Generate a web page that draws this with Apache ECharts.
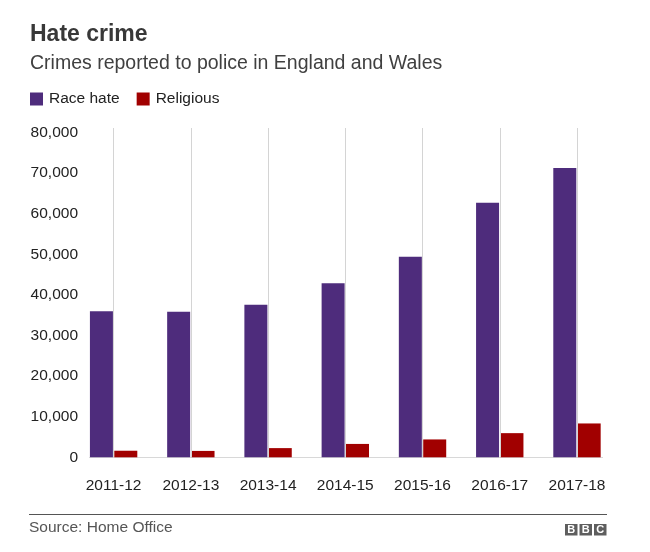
<!DOCTYPE html>
<html>
<head>
<meta charset="utf-8">
<script src="https://cdn.jsdelivr.net/npm/echarts@6/dist/echarts.min.js"></script>
<style>
html,body{margin:0;padding:0;background:#fff;}
#chart{width:650px;height:552px;}
</style>
</head>
<body>
<div id="chart"></div>
<script>
var categories = ['2011-12','2012-13','2013-14','2014-15','2015-16','2016-17','2017-18'];
var raceHate = [35944, 35845, 37575, 42862, 49419, 62685, 71251];
var religious = [1618, 1572, 2264, 3293, 4400, 5949, 8336];
var yTicks = [0, 10000, 20000, 30000, 40000, 50000, 60000, 70000, 80000];

var FONT = '"Liberation Sans", Arial, Helvetica, sans-serif';
var chart = echarts.init(document.getElementById('chart'), null, {renderer:'canvas'});

function fmt(v){ return String(v).replace(/\B(?=(\d{3})+(?!\d))/g, ','); }

var option = {
  backgroundColor: '#fff',
  animation: false,
  textStyle: { fontFamily: FONT },
  legend: {
    left: 30, top: 91, padding: 0,
    itemWidth: 13, itemHeight: 13, itemGap: 17,
    icon: 'rect',
    textStyle: { fontSize: 15.5, color: '#222', fontFamily: FONT, padding: [0,0,0,1] },
    data: ['Race hate', 'Religious']
  },
  grid: { left: 75, right: 34.4, top: 128, bottom: 94.7, containLabel: false },
  xAxis: {
    type: 'category',
    data: categories,
    axisLine: { show: false },
    axisTick: { show: false },
    splitLine: { show: false },
    axisLabel: { fontSize: 15.5, color: '#222', margin: 20, fontFamily: FONT }
  },
  yAxis: {
    type: 'value',
    min: yTicks[0], max: 81100, interval: 10000,
    axisLine: { show: false },
    axisTick: { show: false },
    splitLine: { show: false },
    axisLabel: { fontSize: 15.5, color: '#222', margin: -3, showMaxLabel: false, fontFamily: FONT,
      formatter: function(v){ return yTicks.indexOf(v) >= 0 ? fmt(v) : ''; } }
  },
  series: [
    {
      name: 'gridlines', type: 'line', data: [], silent: true,
      markLine: {
        silent: true, symbol: 'none', animation: false,
        label: { show: false },
        lineStyle: { color: '#d4d4d4', width: 1, type: 'solid' },
        data: categories.map(function(c){ return { xAxis: c }; })
      },
      z: 1
    },
    {
      name: 'Race hate', type: 'bar', data: raceHate,
      barWidth: 23, barGap: '6%',
      itemStyle: { color: '#4e2c7c' },
      z: 3
    },
    {
      name: 'Religious', type: 'bar', data: religious,
      barWidth: 23,
      itemStyle: { color: '#a10000' },
      z: 3
    }
  ],
  graphic: [
    { type: 'text', left: 30, top: 23.5,
      style: { text: 'Hate crime', font: 'bold 23px ' + FONT, fill: '#383838' } },
    { type: 'text', left: 30, top: 53.5,
      style: { text: 'Crimes reported to police in England and Wales', font: '19.5px ' + FONT, fill: '#404040' } },
    { type: 'line', shape: { x1: 89, y1: 457.5, x2: 603, y2: 457.5 },
      style: { stroke: '#d8d8d8', lineWidth: 1 }, z: 0 },
    { type: 'line', shape: { x1: 29, y1: 514.5, x2: 607, y2: 514.5 },
      style: { stroke: '#555', lineWidth: 1 } },
    { type: 'text', left: 29, top: 520,
      style: { text: 'Source: Home Office', font: '15.5px ' + FONT, fill: '#555' } },
    { type: 'group', left: 565, top: 524, children: [
      { type: 'rect', shape: { x: 0, y: 0, width: 12.5, height: 11.5 }, style: { fill: '#5e5e5e' } },
      { type: 'rect', shape: { x: 14.5, y: 0, width: 12.5, height: 11.5 }, style: { fill: '#5e5e5e' } },
      { type: 'rect', shape: { x: 29, y: 0, width: 12.5, height: 11.5 }, style: { fill: '#5e5e5e' } },
      { type: 'text', x: 6.25, y: 6.2, style: { text: 'B', font: 'bold 11px ' + FONT, fill: '#fff', align: 'center', verticalAlign: 'middle' } },
      { type: 'text', x: 20.75, y: 6.2, style: { text: 'B', font: 'bold 11px ' + FONT, fill: '#fff', align: 'center', verticalAlign: 'middle' } },
      { type: 'text', x: 35.25, y: 6.2, style: { text: 'C', font: 'bold 11px ' + FONT, fill: '#fff', align: 'center', verticalAlign: 'middle' } }
    ]}
  ]
};
chart.setOption(option);
</script>
</body>
</html>
